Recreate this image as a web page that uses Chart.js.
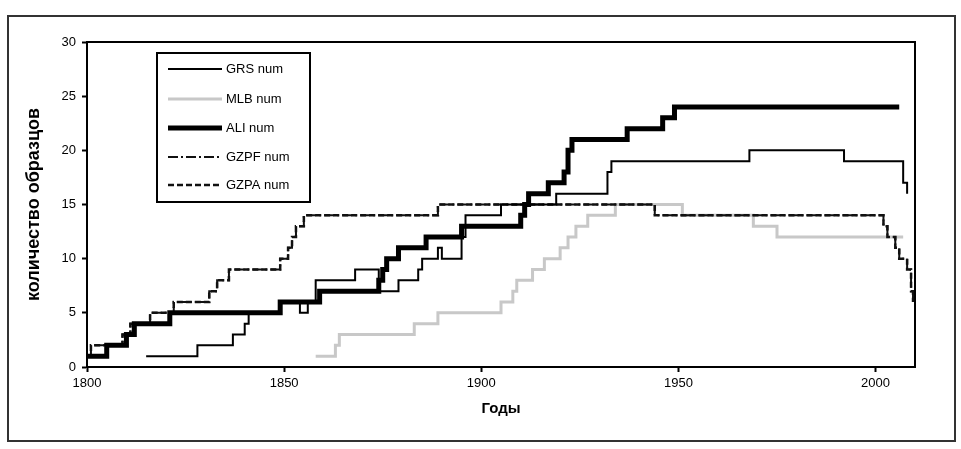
<!DOCTYPE html>
<html>
<head>
<meta charset="utf-8">
<script src="https://cdn.jsdelivr.net/npm/chart.js@4.4.1/dist/chart.umd.min.js"></script>
<style>
  body { margin: 0; background: #fff; }
</style>
</head>
<body>
<canvas id="chart" width="961" height="449"></canvas>
<script>
// years where each series changes, and the value it takes from that year on
const grsYears = [1815, 1828, 1837, 1840, 1841, 1849, 1854, 1856, 1858, 1868, 1874, 1879, 1884, 1885, 1889, 1890, 1895, 1896, 1905, 1919, 1932, 1933, 1968, 1992, 2007, 2008];
const grsValues = [1, 2, 3, 4, 5, 6, 5, 6, 8, 9, 7, 8, 9, 10, 11, 10, 12, 14, 15, 16, 18, 19, 20, 19, 17, 16];

const mlbYears = [1858, 1863, 1864, 1883, 1889, 1905, 1908, 1909, 1913, 1916, 1920, 1922, 1924, 1927, 1934, 1951, 1969, 1975, 2007];
const mlbValues = [1, 2, 3, 4, 5, 6, 7, 8, 9, 10, 11, 12, 13, 14, 15, 14, 13, 12, 12];

const aliYears = [1800, 1805, 1810, 1812, 1821, 1849, 1859, 1874, 1875, 1876, 1879, 1886, 1895, 1910, 1911, 1912, 1917, 1921, 1922, 1923, 1937, 1946, 1949, 2006];
const aliValues = [1, 2, 3, 4, 5, 6, 7, 8, 9, 10, 11, 12, 13, 14, 15, 16, 17, 18, 20, 21, 22, 23, 24, 24];

const gzpYears = [1800, 1801, 1809, 1811, 1816, 1822, 1831, 1833, 1836, 1849, 1851, 1852, 1853, 1855, 1889, 1944, 2002, 2003, 2005, 2006, 2008, 2009, 2009.5];
const gzpfValues = [1, 2, 3, 4, 5, 6, 7, 8, 9, 10, 11, 12, 13, 14, 15, 14, 13, 12, 11, 10, 9, 7, 6];
const gzpaValues = [1, 2, 3, 4, 5, 6, 7, 8, 9, 10, 11, 12, 13, 14, 15, 14, 13, 12, 11, 10, 9, 7, 6];

const xTicks = [1800, 1850, 1900, 1950, 2000];
const yTicks = [0, 5, 10, 15, 20, 25, 30];

function pts(xs, ys) {
  return xs.map((x, i) => ({ x: x, y: ys[i] }));
}

const font = "'Liberation Sans', Arial, sans-serif";

const frame = {
  id: 'frame',
  beforeDraw(chart) {
    const ctx = chart.ctx;
    ctx.save();
    ctx.fillStyle = '#fff';
    ctx.fillRect(0, 0, chart.width, chart.height);
    ctx.strokeStyle = '#333';
    ctx.lineWidth = 2;
    ctx.strokeRect(8, 16, 947, 425);
    ctx.restore();
  },
  afterDatasetsDraw(chart) {
    const a = chart.chartArea;
    const ctx = chart.ctx;
    ctx.save();
    ctx.strokeStyle = '#000';
    ctx.lineWidth = 2;
    ctx.strokeRect(a.left, a.top, a.right - a.left, a.bottom - a.top);
    ctx.restore();
  }
};

// legend box drawn inside the plot, as in the picture
const boxLegend = {
  id: 'boxLegend',
  afterDraw(chart) {
    const ctx = chart.ctx;
    ctx.save();
    ctx.fillStyle = '#fff';
    ctx.fillRect(157, 53, 153, 149);
    ctx.strokeStyle = '#000';
    ctx.lineWidth = 2;
    ctx.strokeRect(157, 53, 153, 149);
    ctx.font = '13px ' + font;
    ctx.textBaseline = 'middle';
    const rows = [69, 99, 128, 157, 185];
    chart.data.datasets.forEach((ds, i) => {
      const y = rows[i];
      ctx.strokeStyle = ds.borderColor;
      ctx.lineWidth = ds.borderWidth;
      ctx.setLineDash(ds.borderDash || []);
      ctx.beginPath();
      ctx.moveTo(168, y);
      ctx.lineTo(222, y);
      ctx.stroke();
      ctx.setLineDash([]);
      ctx.fillStyle = '#000';
      ctx.fillText(ds.label, 226, y);
    });
    ctx.restore();
  }
};

new Chart(document.getElementById('chart'), {
  type: 'line',
  data: {
    datasets: [
      { label: 'GRS num', data: pts(grsYears, grsValues), borderColor: '#000', borderWidth: 2, order: 1 },
      { label: 'MLB num', data: pts(mlbYears, mlbValues), borderColor: '#c8c8c8', borderWidth: 3, order: 4 },
      { label: 'ALI num', data: pts(aliYears, aliValues), borderColor: '#000', borderWidth: 5, order: 0 },
      { label: 'GZPF num', data: pts(gzpYears, gzpfValues), borderColor: '#111', borderWidth: 2, borderDash: [10, 3, 2, 3], order: 3 },
      { label: 'GZPA num', data: pts(gzpYears, gzpaValues), borderColor: '#111', borderWidth: 2.5, borderDash: [6, 3], order: 2 }
    ]
  },
  options: {
    responsive: false,
    animation: false,
    elements: {
      point: { radius: 0 },
      // Chart.js 'before': hold the previous value, then jump at the next year
      line: { stepped: 'before', tension: 0, fill: false }
    },
    layout: { padding: { left: 20, top: 42, right: 46, bottom: 27 } },
    scales: {
      x: {
        type: 'linear',
        min: 1800,
        max: 2010,
        afterBuildTicks: axis => { axis.ticks = xTicks.map(v => ({ value: v })); },
        afterFit: axis => { axis.height = 55; },
        grid: { drawOnChartArea: false, tickLength: 5, tickColor: '#000', tickWidth: 2 },
        border: { color: '#000', width: 2 },
        ticks: { color: '#000', font: { family: font, size: 13 }, padding: 4, maxRotation: 0, callback: v => String(v) },
        title: { display: true, text: 'Годы', color: '#000', font: { family: font, size: 15, weight: 'bold' }, padding: { top: 4, bottom: 4 } }
      },
      y: {
        min: 0,
        max: 30,
        afterBuildTicks: axis => { axis.ticks = yTicks.map(v => ({ value: v })); },
        afterFit: axis => { axis.width = 67; },
        grid: { drawOnChartArea: false, tickLength: 5, tickColor: '#000', tickWidth: 2 },
        border: { color: '#000', width: 2 },
        ticks: { color: '#000', font: { family: font, size: 13 }, padding: 6, callback: v => String(v) },
        title: { display: true, text: 'количество образцов', color: '#000', font: { family: font, size: 18, weight: 'bold' }, padding: { top: 3, bottom: 4 } }
      }
    },
    plugins: {
      legend: { display: false },
      tooltip: { enabled: false }
    }
  },
  plugins: [frame, boxLegend]
});
</script>
</body>
</html>
